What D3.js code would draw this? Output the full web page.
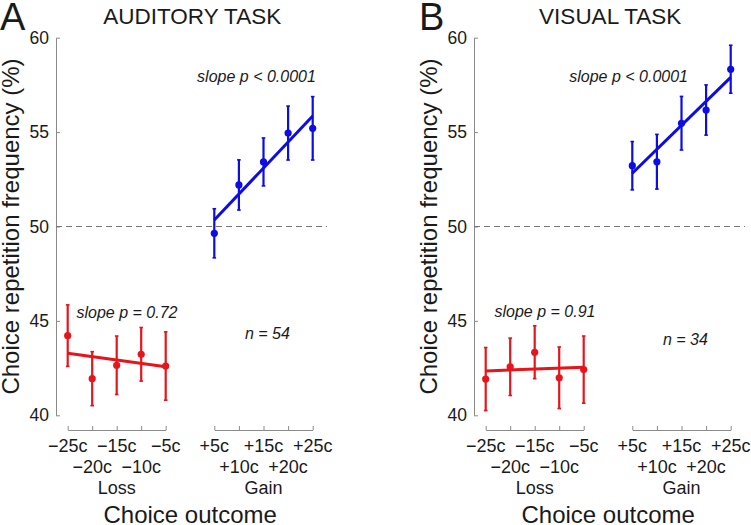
<!DOCTYPE html>
<html>
<head>
<meta charset="utf-8">
<script src="https://cdn.jsdelivr.net/npm/d3@7"></script>
<style>
  html, body { margin: 0; padding: 0; background: #fff; }
  svg { display: block; }
  text { font-family: "Liberation Sans", Arial, Helvetica, sans-serif; fill: #1a1a1a; }
</style>
</head>
<body>
<svg id="chart" width="751" height="525"></svg>
<script>
// ---- data ----
const lossLabels = ["\u221225c", "\u221220c", "\u221215c", "\u221210c", "\u22125c"];
const gainLabels = ["+5c", "+10c", "+15c", "+20c", "+25c"];
const yTicks = [40, 45, 50, 55, 60];
const chanceLevel = 50;

const panelLetters = ["A", "B"];
const panelTitles = ["AUDITORY TASK", "VISUAL TASK"];

const auditoryLoss    = [44.22, 41.94, 42.65, 43.23, 42.61];
const auditoryLossErr = [1.63, 1.43, 1.55, 1.42, 1.81];
const auditoryGain    = [49.64, 52.20, 53.42, 54.95, 55.20];
const auditoryGainErr = [1.30, 1.33, 1.27, 1.43, 1.68];
const auditoryLossFit = [43.29, 42.57];
const auditoryGainFit = [50.34, 55.85];

const visualLoss    = [41.92, 42.57, 43.34, 41.99, 42.42];
const visualLossErr = [1.67, 1.52, 1.40, 1.63, 1.78];
const visualGain    = [53.22, 53.43, 55.47, 56.17, 58.33];
const visualGainErr = [1.28, 1.45, 1.42, 1.33, 1.27];
const visualLossFit = [42.35, 42.54];
const visualGainFit = [52.82, 57.90];

const gainSlopeText = ["slope p < 0.0001", "slope p < 0.0001"];
const lossSlopeText = ["slope p = 0.72", "slope p = 0.91"];
const nText = ["n = 54", "n = 34"];

// ---- layout ----
const W = 751, H = 525;
const panelOffsets = [0, 418];
const yAxisX = 56;
const yTop = 37.7, yBottom = 415.3;
const xAxisY = 430;
const lossRange = [67.7, 165.7];
const gainRange = [214.3, 312.7];
const dashEnd = 327;

const BLUE = "#0c0ce6";
const RED = "#e8141b";
const AXIS = "#8a8a8a";

const svg = d3.select("#chart");

const panels = [
  { loss: auditoryLoss, lossErr: auditoryLossErr, gain: auditoryGain, gainErr: auditoryGainErr,
    lossFit: auditoryLossFit, gainFit: auditoryGainFit,
    // annotation positions in data units (index along group axis, y value)
    gainNote: [1.715, 57.65], lossNote: [2.42, 45.15], nNote: [2.16, 44.04] },
  { loss: visualLoss, lossErr: visualLossErr, gain: visualGain, gainErr: visualGainErr,
    lossFit: visualLossFit, gainFit: visualGainFit,
    gainNote: [-0.15, 57.65], lossNote: [2.42, 45.21], nNote: [2.16, 43.72] }
];

panels.forEach((p, pi) => {
  const g = svg.append("g").attr("transform", `translate(${panelOffsets[pi]},0)`);

  const y = d3.scaleLinear().domain([40, 60]).range([yBottom, yTop]);
  const xLoss = d3.scalePoint().domain(lossLabels).range(lossRange);
  const xGain = d3.scalePoint().domain(gainLabels).range(gainRange);
  const xLossIdx = d3.scaleLinear().domain([0, 4]).range(lossRange);
  const xGainIdx = d3.scaleLinear().domain([0, 4]).range(gainRange);

  // panel letter & title
  g.append("text").attr("x", pi === 0 ? 0 : 1).attr("y", 30)
    .style("font-size", "38px").text(panelLetters[pi]);
  g.append("text").attr("x", (lossRange[0] + gainRange[1]) / 2 + 2).attr("y", 24)
    .attr("text-anchor", "middle").style("font-size", "22.5px").text(panelTitles[pi]);

  // y axis
  const yAxis = d3.axisLeft(y).tickValues(yTicks).tickSize(-4).tickPadding(7).tickSizeOuter(0);
  const ya = g.append("g").attr("transform", `translate(${yAxisX},0)`).call(yAxis);
  ya.select(".domain").attr("stroke", AXIS);
  ya.selectAll(".tick line").attr("stroke", AXIS);
  ya.selectAll(".tick text").style("font-size", "17.5px").attr("fill", "#1a1a1a")
    .style("font-family", '"Liberation Sans", Arial, sans-serif');

  // x axes
  [[xLoss, lossLabels], [xGain, gainLabels]].forEach(([xs, labels]) => {
    const ax = d3.axisBottom(xs).tickSize(-4).tickSizeOuter(0).tickFormat("");
    const xa = g.append("g").attr("transform", `translate(0,${xAxisY})`).call(ax);
    xa.select(".domain").attr("stroke", AXIS);
    xa.selectAll(".tick line").attr("stroke", AXIS);
    // staggered labels
    g.selectAll(null).data(labels).enter().append("text")
      .attr("x", d => xs(d))
      .attr("y", (d, i) => i % 2 === 0 ? 452 : 473)
      .attr("text-anchor", "middle")
      .style("font-size", "18px")
      .text(d => d);
  });
  g.append("text").attr("x", xLoss(lossLabels[2])).attr("y", 493.5)
    .attr("text-anchor", "middle").style("font-size", "18px").text("Loss");
  g.append("text").attr("x", xGain(gainLabels[2])).attr("y", 493.5)
    .attr("text-anchor", "middle").style("font-size", "18px").text("Gain");
  g.append("text").attr("x", (lossRange[0] + gainRange[1]) / 2).attr("y", 523)
    .attr("text-anchor", "middle").style("font-size", "24px").text("Choice outcome");

  // y label
  g.append("text").attr("transform", `translate(19,${(yTop + yBottom) / 2}) rotate(-90)`)
    .attr("text-anchor", "middle").style("font-size", "24px")
    .text("Choice repetition frequency (%)");

  // chance line
  g.append("line")
    .attr("x1", yAxisX).attr("x2", dashEnd)
    .attr("y1", y(chanceLevel)).attr("y2", y(chanceLevel))
    .attr("stroke", "#777").attr("stroke-width", 1).attr("stroke-dasharray", "6,4");

  // series
  const series = [
    { xs: xLoss, labels: lossLabels, vals: p.loss, errs: p.lossErr, fit: p.lossFit, color: RED },
    { xs: xGain, labels: gainLabels, vals: p.gain, errs: p.gainErr, fit: p.gainFit, color: BLUE }
  ];
  series.forEach(s => {
    const data = s.labels.map((l, i) => ({ l, v: s.vals[i], e: s.errs[i] }));
    // error bars
    g.selectAll(null).data(data).enter().append("line")
      .attr("x1", d => s.xs(d.l)).attr("x2", d => s.xs(d.l))
      .attr("y1", d => y(d.v - d.e)).attr("y2", d => y(d.v + d.e))
      .attr("stroke", s.color).attr("stroke-width", 2.2);
    // caps
    [-1, 1].forEach(sign => {
      g.selectAll(null).data(data).enter().append("line")
        .attr("x1", d => s.xs(d.l) - 1.8).attr("x2", d => s.xs(d.l) + 1.8)
        .attr("y1", d => y(d.v + sign * d.e)).attr("y2", d => y(d.v + sign * d.e))
        .attr("stroke", s.color).attr("stroke-width", 1.6);
    });
    // fit line
    g.append("line")
      .attr("x1", s.xs(s.labels[0])).attr("x2", s.xs(s.labels[4]))
      .attr("y1", y(s.fit[0])).attr("y2", y(s.fit[1]))
      .attr("stroke", s.color).attr("stroke-width", 3).attr("stroke-linecap", "butt");
    // markers
    g.selectAll(null).data(data).enter().append("circle")
      .attr("cx", d => s.xs(d.l)).attr("cy", d => y(d.v)).attr("r", 3.6)
      .attr("fill", s.color);
  });

  // annotations
  g.append("text").attr("x", xGainIdx(p.gainNote[0])).attr("y", y(p.gainNote[1]))
    .attr("text-anchor", "middle").style("font-size", "16px").style("font-style", "italic")
    .text(gainSlopeText[pi]);
  g.append("text").attr("x", xLossIdx(p.lossNote[0])).attr("y", y(p.lossNote[1]))
    .attr("text-anchor", "middle").style("font-size", "16px").style("font-style", "italic")
    .text(lossSlopeText[pi]);
  g.append("text").attr("x", xGainIdx(p.nNote[0])).attr("y", y(p.nNote[1]))
    .attr("text-anchor", "middle").style("font-size", "16px").style("font-style", "italic")
    .text(nText[pi]);
});
</script>
</body>
</html>
